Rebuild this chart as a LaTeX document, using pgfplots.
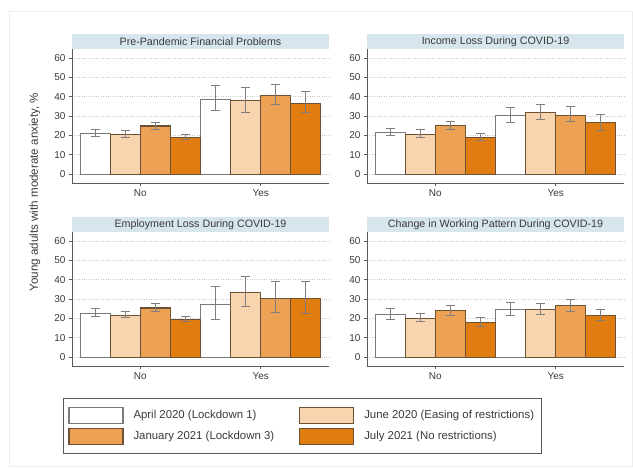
\documentclass[border=0pt]{standalone}
\usepackage{pgfplots}
\usepackage{pgfplotstable}
\pgfplotsset{compat=1.18}
\usepackage{fontspec}
\setmainfont{Liberation Sans}

\definecolor{c2}{HTML}{F9D5AF}
\definecolor{c3}{HTML}{EDA155}
\definecolor{c4}{HTML}{E07C10}
\definecolor{out1}{HTML}{7A7A7A}
\definecolor{outc}{HTML}{6B5234}
\definecolor{errgray}{HTML}{7E7E7E}
\definecolor{axisgray}{HTML}{5A5A5A}
\definecolor{gridgray}{HTML}{C8C8C8}
\definecolor{titlebg}{HTML}{D7E6EC}
\definecolor{textgray}{HTML}{3A3A3A}

\pgfplotstableread{
x y1 p1 m1 y2 p2 m2 y3 p3 m3 y4 p4 m4
0 21.1 2.0 1.4 20.6 2.2 1.6 24.9 1.8 1.6 19.0 1.6 1.0
1 38.7 6.9 5.6 37.9 7.0 6.2 40.8 5.5 4.8 36.5 6.0 4.8
}\dataA
\pgfplotstableread{
x y1 p1 m1 y2 p2 m2 y3 p3 m3 y4 p4 m4
0 21.6 2.1 1.7 20.6 2.4 1.6 25.0 2.1 1.9 19.0 2.1 1.7
1 30.2 4.4 3.5 31.9 4.3 3.6 30.3 4.5 3.2 26.7 4.0 3.9
}\dataB
\pgfplotstableread{
x y1 p1 m1 y2 p2 m2 y3 p3 m3 y4 p4 m4
0 22.5 2.6 1.7 21.6 2.1 1.3 25.4 2.2 2.0 19.4 1.7 1.2
1 27.3 9.0 7.8 33.4 8.3 7.0 30.3 8.7 7.3 30.3 8.8 7.7
}\dataC
\pgfplotstableread{
x y1 p1 m1 y2 p2 m2 y3 p3 m3 y4 p4 m4
0 22.0 3.1 2.6 19.9 2.6 1.7 24.2 2.7 2.6 17.9 2.6 2.2
1 24.7 3.4 3.1 24.7 3.1 2.7 26.8 3.0 3.1 21.5 3.4 2.8
}\dataD

\pgfplotsset{
  errbars/.style={
    /pgfplots/error bars/y dir=both,
    /pgfplots/error bars/y explicit,
    /pgfplots/error bars/error bar style={color=errgray, line width=0.9pt},
    /pgfplots/error bars/error mark options={rotate=90, mark size=4.6pt, color=errgray, line width=0.9pt},
  },
  s1/.style={fill=white, draw=out1, line width=1.1pt, bar shift=-0.375, errbars},
  s2/.style={fill=c2, draw=outc, line width=1.1pt, bar shift=-0.125, errbars},
  s3/.style={fill=c3, draw=outc, line width=1.1pt, bar shift=0.125, errbars},
  s4/.style={fill=c4, draw=outc, line width=1.1pt, bar shift=0.375, errbars},
  panel/.style={
    scale only axis, width=257pt, height=134pt,
    xmin=-0.567, xmax=1.567, ymin=-4.6, ymax=64.7,
    axis x line*=bottom, axis y line*=left,
    axis line style={color=axisgray, line width=0.8pt, -},
    xtick={0,1}, xticklabels={No,Yes},
    ytick={0,10,...,60},
    tick align=outside, major tick length=3pt,
    tick style={color=axisgray, line width=0.8pt},
    ymajorgrids, grid style={dotted, color=gridgray, line width=0.7pt},
    ybar, bar width=0.25,
    tick label style={font=\fontsize{10}{12}\selectfont, text=textgray},
    /pgf/number format/assume math mode=true,
    title style={at={(0.5,1)}, anchor=south, yshift=-6.5pt, fill=titlebg,
      minimum width=257pt, minimum height=15.5pt, inner sep=0pt,
      font=\fontsize{10.7}{12}\selectfont, text=textgray},
  },
}

\newcommand{\fourbars}[1]{%
  \addplot[s1] table[x=x, y=y1, y error plus=p1, y error minus=m1] {#1};
  \addplot[s2] table[x=x, y=y2, y error plus=p2, y error minus=m2] {#1};
  \addplot[s3] table[x=x, y=y3, y error plus=p3, y error minus=m3] {#1};
  \addplot[s4] table[x=x, y=y4, y error plus=p4, y error minus=m4] {#1};
}

\begin{document}
\begin{tikzpicture}
\useasboundingbox (0pt,0pt) rectangle (633pt,-468pt);
\draw[color=black!7, line width=0.6pt] (9pt,-11pt) rectangle (632pt,-466pt);

\begin{axis}[panel, at={(72pt,-49pt)}, anchor=north west, title={Pre-Pandemic Financial Problems}]
\fourbars{\dataA}
\end{axis}

\begin{axis}[panel, at={(367pt,-49pt)}, anchor=north west, title={Income Loss During COVID-19}]
\fourbars{\dataB}
\end{axis}

\begin{axis}[panel, at={(72pt,-232pt)}, anchor=north west, title={Employment Loss During COVID-19},
  legend columns=2, legend cell align=left,
  legend image code/.code={\draw[#1] (0pt,-8pt) rectangle (54pt,8pt);},
  legend style={at={(-0.035,-0.239)}, anchor=north west, draw=axisgray, line width=0.8pt,
    inner xsep=5pt, inner ysep=8.5pt, font=\fontsize{11.4}{13}\selectfont, text=textgray,
    row sep=4pt,
    /tikz/every even column/.append style={column sep=23pt},
    /tikz/every odd column/.append style={column sep=8pt}},
]
\fourbars{\dataC}
\legend{April 2020 (Lockdown 1), June 2020 (Easing of restrictions), January 2021 (Lockdown 3), July 2021 (No restrictions)}
\end{axis}

\begin{axis}[panel, at={(367pt,-232pt)}, anchor=north west, title={Change in Working Pattern During COVID-19}]
\fourbars{\dataD}
\end{axis}

\node[rotate=90, font=\fontsize{11.6}{13}\selectfont, text=textgray] at (35pt,-192pt) {Young adults with moderate anxiety, \%};
\end{tikzpicture}
\end{document}
